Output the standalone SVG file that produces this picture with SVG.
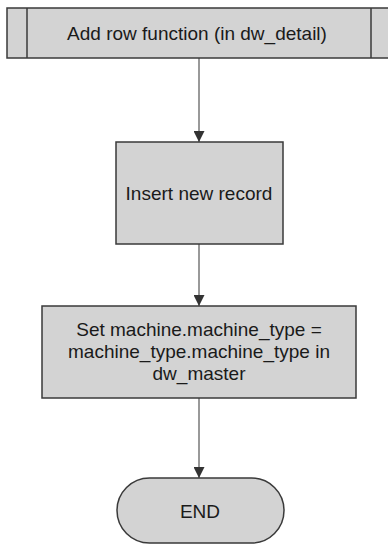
<svg xmlns="http://www.w3.org/2000/svg" width="388" height="546" viewBox="0 0 388 546">
<defs>
<style>
.shape{fill:#d3d3d3;stroke:#3a3a3a;stroke-width:1.5}
.lbl{font-family:"Liberation Sans",Arial,sans-serif;font-size:19px;fill:#1a1a1a;text-anchor:middle}
.conn{stroke:#555;stroke-width:1.2;fill:none}
</style>
<marker id="arr" markerWidth="11" markerHeight="11" refX="11" refY="5.5" orient="auto" markerUnits="userSpaceOnUse">
<path d="M0,0 L11,5.5 L0,11 Z" fill="#333"/>
</marker>
</defs>
<rect width="388" height="546" fill="#fff"/>
<g id="connectors">
<line class="conn" x1="199" y1="58" x2="199" y2="142" marker-end="url(#arr)"/>
<line class="conn" x1="199" y1="244" x2="199" y2="306" marker-end="url(#arr)"/>
<line class="conn" x1="199" y1="398" x2="199" y2="478" marker-end="url(#arr)"/>
</g>
<g id="n_add_row">
<rect class="shape" x="7" y="8" width="390" height="50"/>
<line x1="27" y1="8" x2="27" y2="58" stroke="#3a3a3a" stroke-width="1.5"/>
<line x1="371" y1="8" x2="371" y2="58" stroke="#3a3a3a" stroke-width="1.5"/>
<text class="lbl" x="197" y="40">Add row function (in dw_detail)</text>
</g>
<g id="n_insert">
<rect class="shape" x="116" y="142" width="167" height="102"/>
<text class="lbl" x="199" y="199.5">Insert new record</text>
</g>
<g id="n_set">
<rect class="shape" x="42" y="306" width="314" height="92"/>
<text class="lbl" x="199" y="336">Set machine.machine_type =</text>
<text class="lbl" x="199" y="358">machine_type.machine_type in</text>
<text class="lbl" x="199" y="380">dw_master</text>
</g>
<g id="n_end">
<rect class="shape" x="117" y="478" width="167" height="65" rx="32.5" ry="32.5"/>
<text class="lbl" x="200" y="518">END</text>
</g>
</svg>
